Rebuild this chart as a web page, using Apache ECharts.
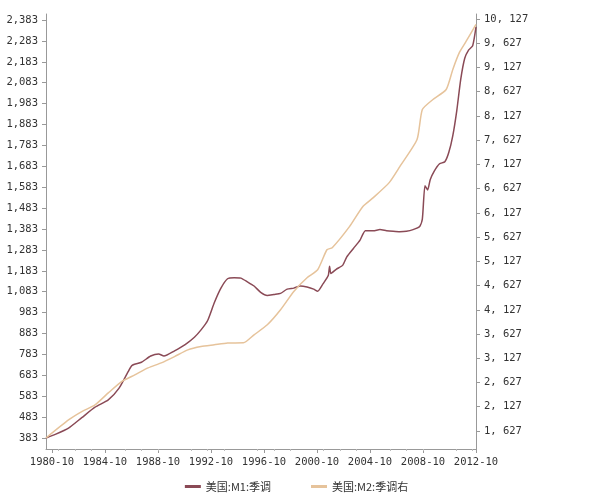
<!DOCTYPE html>
<html><head><meta charset="utf-8">
<script src="https://cdn.jsdelivr.net/npm/echarts@6/dist/echarts.min.js"></script>
<style>html,body{margin:0;background:#fff}#c{width:593px;height:503px}</style>
</head><body><div id="c"></div>
<script>
// 美国 M1 (左轴) / M2 (右轴), 年份为小数
const m1Years = [1980.3,1981,1982,1983,1984,1985,1985.8,1986.5,1986.8,1987.5,1988.2,1988.8,1989.2,1990,1990.8,1991.5,1992,1992.5,1993,1993.5,1994,1994.5,1995,1995.5,1996,1996.5,1997,1997.5,1998,1998.5,1999,1999.5,2000,2000.5,2000.8,2001.2,2001.6,2001.7,2001.8,2002.2,2002.7,2003,2003.5,2004,2004.4,2005,2005.5,2006,2006.5,2007,2007.5,2008,2008.5,2008.7,2008.9,2009.1,2009.3,2009.6,2010,2010.4,2010.7,2011,2011.3,2011.6,2011.9,2012.2,2012.5,2012.75];
const m1Values = [383,400,430,480,530,565,620,700,730,745,775,785,775,800,830,865,900,945,1030,1100,1145,1150,1148,1130,1110,1080,1065,1070,1075,1095,1100,1110,1105,1095,1085,1120,1160,1205,1170,1190,1210,1250,1290,1330,1375,1375,1380,1375,1372,1370,1372,1380,1395,1430,1590,1570,1620,1660,1695,1705,1750,1830,1950,2100,2200,2240,2260,2350];
const m2Years = [1980.3,1982,1983,1984,1985,1986,1987,1988,1989,1990,1991,1992,1993,1994,1995.2,1996,1997,1998,1999,2000,2000.8,2001.5,2001.9,2003.2,2004.2,2005,2006.2,2007,2008.3,2008.7,2009.5,2010.5,2011,2011.5,2012,2012.75];
const m2Values = [1482,1854,2026,2164,2412,2646,2784,2928,3032,3162,3300,3369,3404,3440,3445,3610,3817,4127,4505,4788,4953,5366,5408,5842,6255,6441,6751,7081,7639,8259,8466,8672,9086,9437,9664,10015];
const xTicks = [1980.75,1984.75,1988.75,1992.75,1996.75,2000.75,2004.75,2008.75,2012.75];
const leftTicks = [383,483,583,683,783,883,983,1083,1183,1283,1383,1483,1583,1683,1783,1883,1983,2083,2183,2283,2383];
const rightTicks = [1627,2127,2627,3127,3627,4127,4627,5127,5627,6127,6627,7127,7627,8127,8627,9127,9627,10127];

const font = {fontFamily: 'DejaVu Sans Mono', fontSize: 10.5, color: '#333'};
const line = {lineStyle: {color: '#999'}};
const chart = echarts.init(document.getElementById('c'));
chart.setOption({
  animation: false,
  grid: {left: 46, right: 117, top: 14, bottom: 54},
  legend: {bottom: 6, left: 'center', itemWidth: 16, itemHeight: 3, itemGap: 40,
    textStyle: {fontFamily: 'Noto Sans CJK SC', fontSize: 11, color: '#333'},
    icon: 'rect', data: ['美国:M1:季调', '美国:M2:季调右']},
  xAxis: {type: 'value', min: 1980.3, max: 2012.75, axisLine: line,
    splitLine: {show: false},
    axisTick: {customValues: xTicks, length: 4, lineStyle: {color: '#999'}},
    minorTick: {show: true, splitNumber: 4, length: 2, lineStyle: {color: '#bbb'}},
    axisLabel: Object.assign({customValues: xTicks, formatter: v => Math.round(v - 0.75) + '-10', margin: 8}, font)},
  yAxis: [
    {type: 'value', min: 330, max: 2412, axisLine: Object.assign({show: true}, line),
      splitLine: {show: false},
      axisTick: {show: true, customValues: leftTicks, length: 4, lineStyle: {color: '#999'}},
      axisLabel: Object.assign({customValues: leftTicks, formatter: v => v.toLocaleString('en-US')}, font)},
    {type: 'value', min: 1255, max: 10230, position: 'right', axisLine: Object.assign({show: true}, line),
      splitLine: {show: false},
      axisTick: {show: true, customValues: rightTicks, length: 4, lineStyle: {color: '#999'}},
      axisLabel: Object.assign({customValues: rightTicks, formatter: v => v.toLocaleString('en-US').replace(',', ', ')}, font)}
  ],
  series: [
    {name: '美国:M1:季调', type: 'line', yAxisIndex: 0, showSymbol: false, smooth: 0.2,
      lineStyle: {width: 1.5, color: '#8a4a56'}, itemStyle: {color: '#8a4a56'},
      data: m1Years.map((y, i) => [y, m1Values[i]])},
    {name: '美国:M2:季调右', type: 'line', yAxisIndex: 1, showSymbol: false, smooth: 0.2,
      lineStyle: {width: 1.5, color: '#e6c39b'}, itemStyle: {color: '#e6c39b'},
      data: m2Years.map((y, i) => [y, m2Values[i]])}
  ]
});
</script></body></html>
